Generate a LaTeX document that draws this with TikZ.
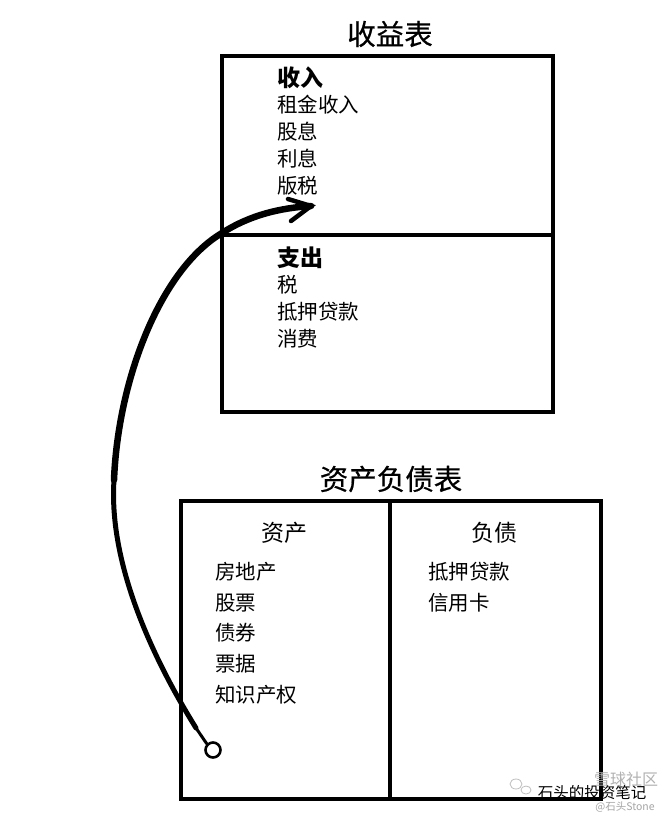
\documentclass[tikz,border=0pt]{standalone}
\usepackage{fontspec}
\setmainfont{Noto Sans CJK SC}
\newfontfamily\cjk{Noto Sans CJK SC}
\newfontfamily\cjkmed[FakeBold=0.5]{Noto Sans CJK SC}
\begin{document}
\begin{tikzpicture}[x=1pt,y=-1pt,
  boxline/.style={line width=4pt},
  ttl/.style={font=\cjkmed\fontsize{28.5}{28.5}\selectfont, inner sep=0pt},
  sub/.style={font=\cjk\fontsize{23}{23}\selectfont, inner sep=0pt},
  head/.style={font=\cjk\bfseries\fontsize{23}{23}\selectfont, inner sep=0pt, anchor=west},
  item/.style={font=\cjk\fontsize{20.5}{20.5}\selectfont, inner sep=0pt, anchor=west},
  brush/.style={line width=6.5pt, line cap=round, line join=round},
  wm/.style={inner sep=0pt}]
\useasboundingbox[fill=white] (0,0) rectangle (672,822);
% income statement
\node[ttl] (t1) at (390,34) {收益表};
\draw[boxline] (222,56) rectangle (553,412);
\draw[boxline] (222,235) -- (553,235);
\node[head] (inc) at (277,78) {收入};
\node[item] (i1) at (277,105) {租金收入};
\node[item] (i2) at (277,132) {股息};
\node[item] (i3) at (277,159) {利息};
\node[item] (i4) at (277,186) {版税};
\node[head] (exp) at (277,258) {支出};
\node[item] (e1) at (277,285) {税};
\node[item] (e2) at (277,312) {抵押贷款};
\node[item] (e3) at (277,339) {消费};
% balance sheet
\node[ttl] (t2) at (391,479) {资产负债表};
\draw[boxline] (181,501) rectangle (601,799);
\draw[boxline] (390,501) -- (390,799);
\node[sub] (ast) at (284,533) {资产};
\node[sub] (lia) at (494,533) {负债};
\node[item] (a1) at (215,572) {房地产};
\node[item] (a2) at (215,603) {股票};
\node[item] (a3) at (215,633) {债券};
\node[item] (a4) at (215,664) {票据};
\node[item] (a5) at (215,695) {知识产权};
\node[item] (l1) at (428,572) {抵押贷款};
\node[item] (l2) at (428,603) {信用卡};
% arrow
\node[draw, circle, line width=2.6pt, minimum size=15pt, inner sep=0pt] (c) at (213,750) {};
\coordinate (p1) at (114,480);
\coordinate (p2) at (222,233);
\coordinate (tip) at (311,206);
\draw[line width=3pt, line cap=round] (c.north west) -- (196,728);
\draw[line width=5pt, line cap=round] (196,728) .. controls (160,670) and (108,570) .. (p1);
\draw[brush] (p1) .. controls (118,380) and (160,270) .. (p2) .. controls (250,215) and (280,208) .. (tip);
\draw[line width=4.5pt, line cap=round, line join=miter] (288,199) -- (tip) -- (291,221);
% watermark
\draw[gray!50, line width=0.8pt] (516,784) ellipse (6pt and 5pt) (526,790) ellipse (5pt and 4pt);
\node[wm, font=\cjk\fontsize{15.5}{15.5}\selectfont] (w1) at (592,793) {石头的投资笔记};
\node[wm, text=gray!60, font=\cjk\fontsize{16}{16}\selectfont] (w2) at (626,779) {雪球社区};
\node[wm, text=gray!70, font=\cjk\fontsize{10.5}{10.5}\selectfont] (w3) at (625,807) {@石头Stone};
\end{tikzpicture}
\end{document}
